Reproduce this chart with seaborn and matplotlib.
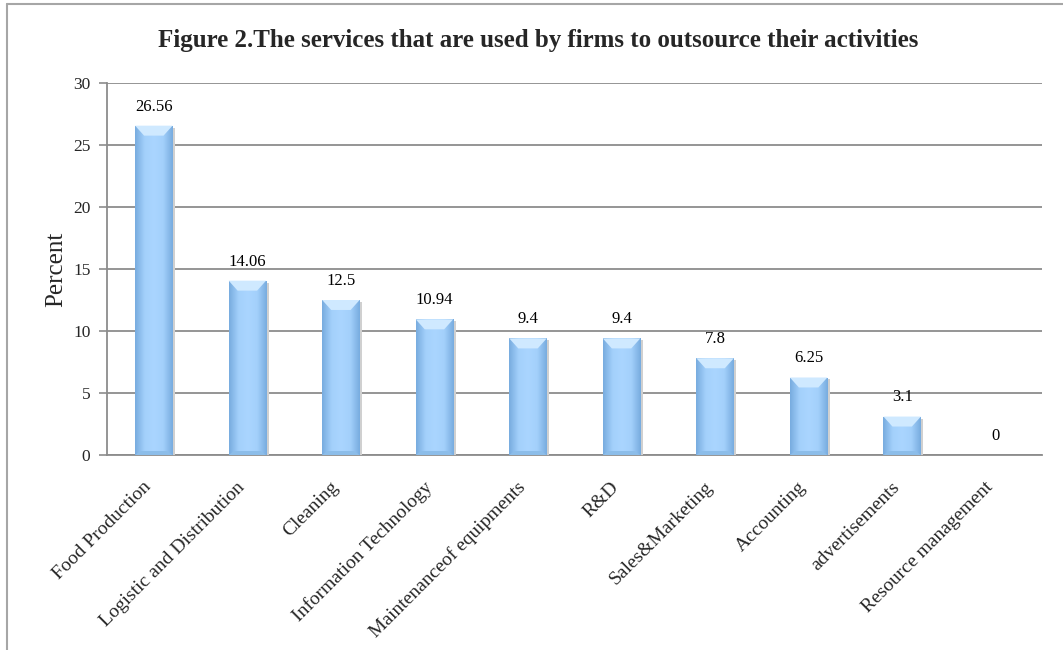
import matplotlib
matplotlib.use("Agg")
import matplotlib.pyplot as plt
import matplotlib.transforms as mtransforms
import numpy as np
import pandas as pd
import seaborn as sns
from matplotlib.lines import Line2D
from matplotlib.colors import LinearSegmentedColormap

categories = ["Food Production", "Logistic and Distribution", "Cleaning",
              "Information Technology", "Maintenanceof equipments", "R&D",
              "Sales&Marketing", "Accounting", "advertisements",
              "Resource management"]
percent = [26.56, 14.06, 12.5, 10.94, 9.4, 9.4, 7.8, 6.25, 3.1, 0]
value_labels = ["26.56", "14.06", "12.5", "10.94", "9.4", "9.4", "7.8",
                "6.25", "3.1", "0"]
y_ticks = [0, 5, 10, 15, 20, 25, 30]

df = pd.DataFrame({"service": categories, "percent": percent})

sns.set_theme(style="white")
plt.rcParams["font.family"] = ["Liberation Serif", "DejaVu Serif"]

fig = plt.figure(figsize=(10.63, 6.5), dpi=100)
ax = fig.add_axes([0.1007, 0.30, 0.8800, 0.5723])

sns.barplot(data=df, x="service", y="percent", color="#9fcdf8",
            width=0.40, ax=ax, saturation=1, edgecolor="none", zorder=3)

# horizontal shading across each bar: darker edges, light centre
edge_map = LinearSegmentedColormap.from_list(
    "bevel", ["#78acdf", "#a3d0fb", "#aad5ff", "#a3d0fb", "#78acdf"])
grad = np.linspace(0, 1, 64).reshape(1, -1)
px_x = 1 / 93.6          # data units per pixel, horizontal
px_y = 30 / 373.0        # data units per pixel, vertical
for patch in ax.patches:
    x0, y0 = patch.get_x(), patch.get_y()
    w, h = patch.get_width(), patch.get_height()
    if h <= 0:
        continue
    im = ax.imshow(grad, extent=[x0, x0 + w, y0, y0 + h], aspect="auto",
                   cmap=edge_map, zorder=3.5, interpolation="bicubic")
    im.set_clip_path(patch)
    # top bevel
    bh = min(10 * px_y, h * 0.5)
    bw = 9 * px_x
    top = plt.Polygon([[x0, y0 + h], [x0 + w, y0 + h],
                       [x0 + w - bw, y0 + h - bh], [x0 + bw, y0 + h - bh]],
                      closed=True, facecolor="#cfe9ff", edgecolor="none",
                      zorder=4)
    ax.add_patch(top)
    # bottom bevel
    bb = min(4 * px_y, h * 0.2)
    bot = plt.Polygon([[x0, y0], [x0 + w, y0],
                       [x0 + w - bw * 0.6, y0 + bb], [x0 + bw * 0.6, y0 + bb]],
                      closed=True, facecolor="#8cbde9", edgecolor="none",
                      zorder=4)
    ax.add_patch(bot)
    # soft shadow on the right side
    sh = plt.Rectangle((x0 + w, y0), 2.5 * px_x, h - 2 * px_y,
                       facecolor="#d0d0d0", edgecolor="none", zorder=2.9)
    ax.add_patch(sh)

for i, (v, lab) in enumerate(zip(percent, value_labels)):
    ax.annotate(lab, xy=(i, v), xytext=(0, 8), textcoords="offset points",
                ha="center", va="bottom", fontsize=12, color="#000000",
                zorder=5)

ax.set_ylim(0, 30)
ax.set_xlim(-0.5, len(categories) - 0.5)
ax.set_yticks(y_ticks)
ax.set_yticklabels([str(t) for t in y_ticks], fontsize=12.5)
ax.yaxis.grid(True, color="#8c8c8c", linewidth=1.3, zorder=0)
ax.set_axisbelow(True)
ax.tick_params(axis="y", which="both", left=True, length=6, width=1.2,
               color="#8c8c8c", pad=6)
ax.tick_params(axis="x", bottom=False, pad=13)
ax.set_xticks(range(len(categories)))
ax.set_xticklabels(categories, rotation=45, ha="right", va="center",
                   rotation_mode="anchor", fontsize=14)
# nudge the slanted category labels slightly down and to the left
nudge = mtransforms.ScaledTranslation(-5 / 100, -3 / 100, fig.dpi_scale_trans)
for lbl in ax.get_xticklabels():
    lbl.set_transform(lbl.get_transform() + nudge)
ax.set_xlabel("")
ax.set_ylabel("Percent", fontsize=18, labelpad=4)

for side in ["top", "right"]:
    ax.spines[side].set_visible(False)
for side in ["left", "bottom"]:
    ax.spines[side].set_color("#8c8c8c")
    ax.spines[side].set_linewidth(1.3)

fig.text(0.506, 0.938, "Figure 2.The services that are used by firms to outsource their activities",
         ha="center", va="center", fontsize=18, fontweight="bold")

# chart frame (left and top edges)
fig.add_artist(Line2D([0.0066, 0.0066], [0.0, 0.9938], color="#a6a6a6",
                      linewidth=1.5, transform=fig.transFigure))
fig.add_artist(Line2D([0.0066, 1.0], [0.9938, 0.9938], color="#a6a6a6",
                      linewidth=1.5, transform=fig.transFigure))

fig.savefig("out.png", dpi=100)
